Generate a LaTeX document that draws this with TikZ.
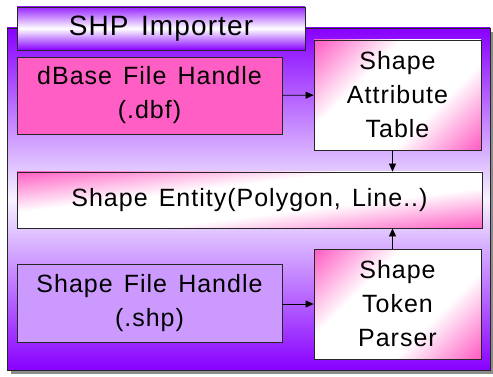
\documentclass[tikz,border=0pt]{standalone}
\usepackage{fontspec}
\setmainfont{Liberation Sans}[LetterSpace=4,WordSpace=1.4]
\usetikzlibrary{arrows.meta,shadows}

\definecolor{importviolet}{RGB}{136,0,255}
\definecolor{importlilac}{RGB}{246,242,255}
\definecolor{handlepink}{RGB}{255,94,196}
\definecolor{handlelilac}{RGB}{204,153,255}

% pink corners, white band across the middle
\pgfdeclarehorizontalshading{pinkband}{100bp}{color(0bp)=(handlepink); color(15bp)=(handlepink);
  color(37bp)=(white); color(63bp)=(white); color(85bp)=(handlepink); color(100bp)=(handlepink)}
\pgfdeclareverticalshading{pinkstrip}{100bp}{color(0bp)=(handlepink); color(22bp)=(handlepink);
  color(42bp)=(white); color(58bp)=(white); color(78bp)=(handlepink); color(100bp)=(handlepink)}

\begin{document}
\begin{tikzpicture}[x=1pt,y=-1pt,
    every node/.style={draw=black!85,line width=0.8pt,inner sep=0pt,align=center,
      font=\fontsize{25}{34}\selectfont},
    handle/.style={minimum width=265pt,minimum height=77pt},
    stage/.style={shading=pinkband,shading angle=-45,minimum width=167pt,minimum height=110pt},
    flow/.style={line width=0.8pt,-{Triangle[length=8pt,width=7pt]}}]

    \useasboundingbox (0,0) rectangle (493,377);

    % Importer frame with its title tab
    \node[top color=importviolet,bottom color=importviolet,middle color=importlilac,
      drop shadow={shadow xshift=4pt,shadow yshift=-4pt,fill=black!45,opacity=1},
      minimum width=483pt,minimum height=342pt] (frame) at (248.5,199) {};
    \node[top color=importviolet!85,bottom color=importviolet,middle color=white,
      minimum width=288pt,minimum height=43pt,font=\fontsize{28}{34}\selectfont]
      (title) at (161,28.5) {SHP Importer};

    % File handles on the left
    \node[handle,fill=handlepink] (dbf) at (149.5,95.5) {dBase File Handle\\(.dbf)};
    \node[handle,fill=handlelilac,minimum height=78pt] (shp) at (149.5,303) {Shape File Handle\\(.shp)};

    % Reading stages on the right
    \node[stage] (attr) at (397.5,95) {Shape\\Attribute\\Table};
    \node[stage] (token) at (397.5,304) {Shape\\Token\\Parser};

    % Result in the middle
    \node[shading=pinkstrip,shading angle=7,minimum width=465pt,minimum height=56pt]
      (entity) at (249.5,200) {Shape Entity(Polygon, Line..)};

    \draw[flow] (dbf) -- (attr);
    \draw[flow] (shp.east |- token.west) -- (token.west);
    \draw[flow] ([xshift=-5pt]attr.south) -- ([xshift=-5pt]attr.south |- entity.north);
    \draw[flow] ([xshift=-5pt]token.north) -- ([xshift=-5pt]token.north |- entity.south);
  \end{tikzpicture}
\end{document}
